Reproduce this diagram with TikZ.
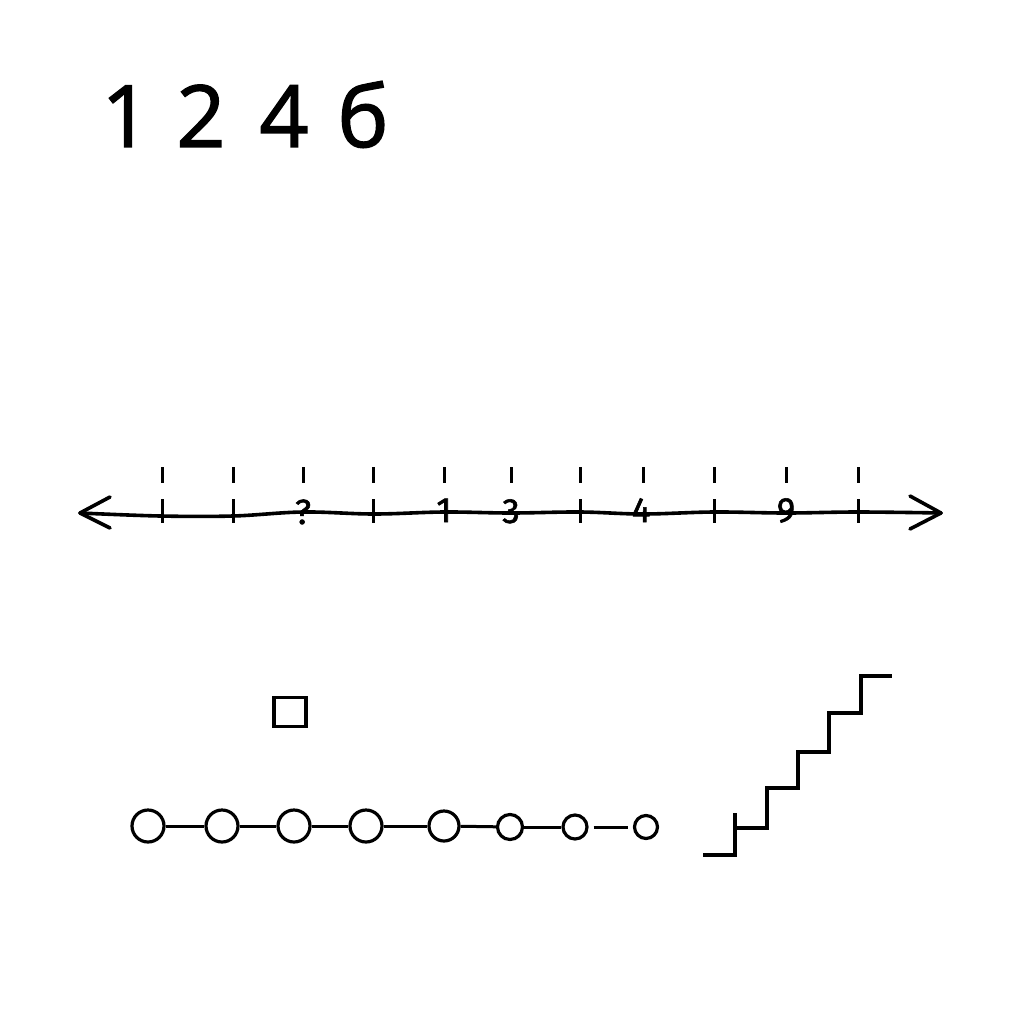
\documentclass[tikz,border=0pt]{standalone}
\usepackage{fontspec}
\setmainfont{Open Sans}
\newfontfamily\digfont[FakeBold=1.6]{Open Sans}
\newfontfamily\lblfont[FakeBold=1.6]{Fira Sans}
\begin{document}
\begin{tikzpicture}[x=1pt,y=-1pt,
  ink/.style={draw=black,line width=3.6pt},
  ball/.style={circle,draw=black,line width=3.2pt,inner sep=0pt},
  bigdigit/.style={font=\digfont\fontsize{86}{90}\selectfont,anchor=base,inner sep=0pt},
  linelbl/.style={font=\lblfont\fontsize{35}{36}\selectfont,anchor=base,inner sep=0pt},
  tick/.style={draw=black,line width=3pt},
  stair/.style={draw=black,line width=4.6pt}]
\useasboundingbox[fill=white] (0,0) rectangle (1024,1024);
% top digits
\node[bigdigit] (d1) at (126,147) {1};
\node[bigdigit] (d2) at (201,147) {2};
\node[bigdigit] (d4) at (284,147) {4};
\node[bigdigit] (d6) at (363,147) {б};
% number line
\coordinate (nl) at (80,513);
\coordinate (nr) at (941,513);
\draw[ink,line cap=round] plot[smooth,tension=0.6] coordinates {(80,513) (160,516) (233,516) (303,512) (374,514) (444,512) (511,513) (580,512) (643,514) (714,512) (786,513) (858,512) (941,513)};
\draw[ink,line cap=round,line join=round] (110,497) -- (nl) -- (110,528);
\draw[ink,line cap=round,line join=round] (910,496) -- (nr) -- (910,529);
\foreach \x in {162,233,303,373,444,511,580,643,714,786,858}{
  \draw[tick] (\x,467) -- (\x,483);
}
\foreach \x in {162,233,373,580,714,858}{
  \draw[tick] (\x,499) -- (\x,523);
}
\node[linelbl] (q) at (303,524) {?};
\node[linelbl] (l1) at (444,522) {1};
\node[linelbl] (l3) at (511,523) {3};
\node[linelbl] (l4) at (641,522) {4};
\node[linelbl] (l9) at (786,522) {9};
% square
\node[draw=black,line width=3.2pt,minimum width=32pt,minimum height=29pt,inner sep=0pt] (sq) at (290,712) {};
% chain of circles
\node[ball,minimum size=32pt] (c1) at (148,826) {};
\node[ball,minimum size=32pt] (c2) at (222,826) {};
\node[ball,minimum size=32pt] (c3) at (294,826) {};
\node[ball,minimum size=32pt] (c4) at (366,826) {};
\node[ball,minimum size=30pt] (c5) at (444,826) {};
\node[ball,minimum size=25pt] (c6) at (510,827) {};
\node[ball,minimum size=24pt] (c7) at (575,827) {};
\node[ball,minimum size=23pt] (c8) at (646,827) {};
\foreach \a/\b in {c1/c2,c2/c3,c3/c4,c4/c5,c5/c6,c6/c7}{
  \draw[ink,line width=3pt] (\a) -- (\b);
}
\draw[ink,line width=3pt] ([xshift=5pt]c7.east) -- ([xshift=-5pt]c8.west);
% staircase
\draw[stair] (703,855) -- (735,855) -- (735,813);
\draw[stair] (735,828) -- (767,828) -- (767,788) -- (798,788) -- (798,752) -- (829,752) -- (829,713) -- (861,713) -- (861,676) -- (892,676);
\end{tikzpicture}
\end{document}
